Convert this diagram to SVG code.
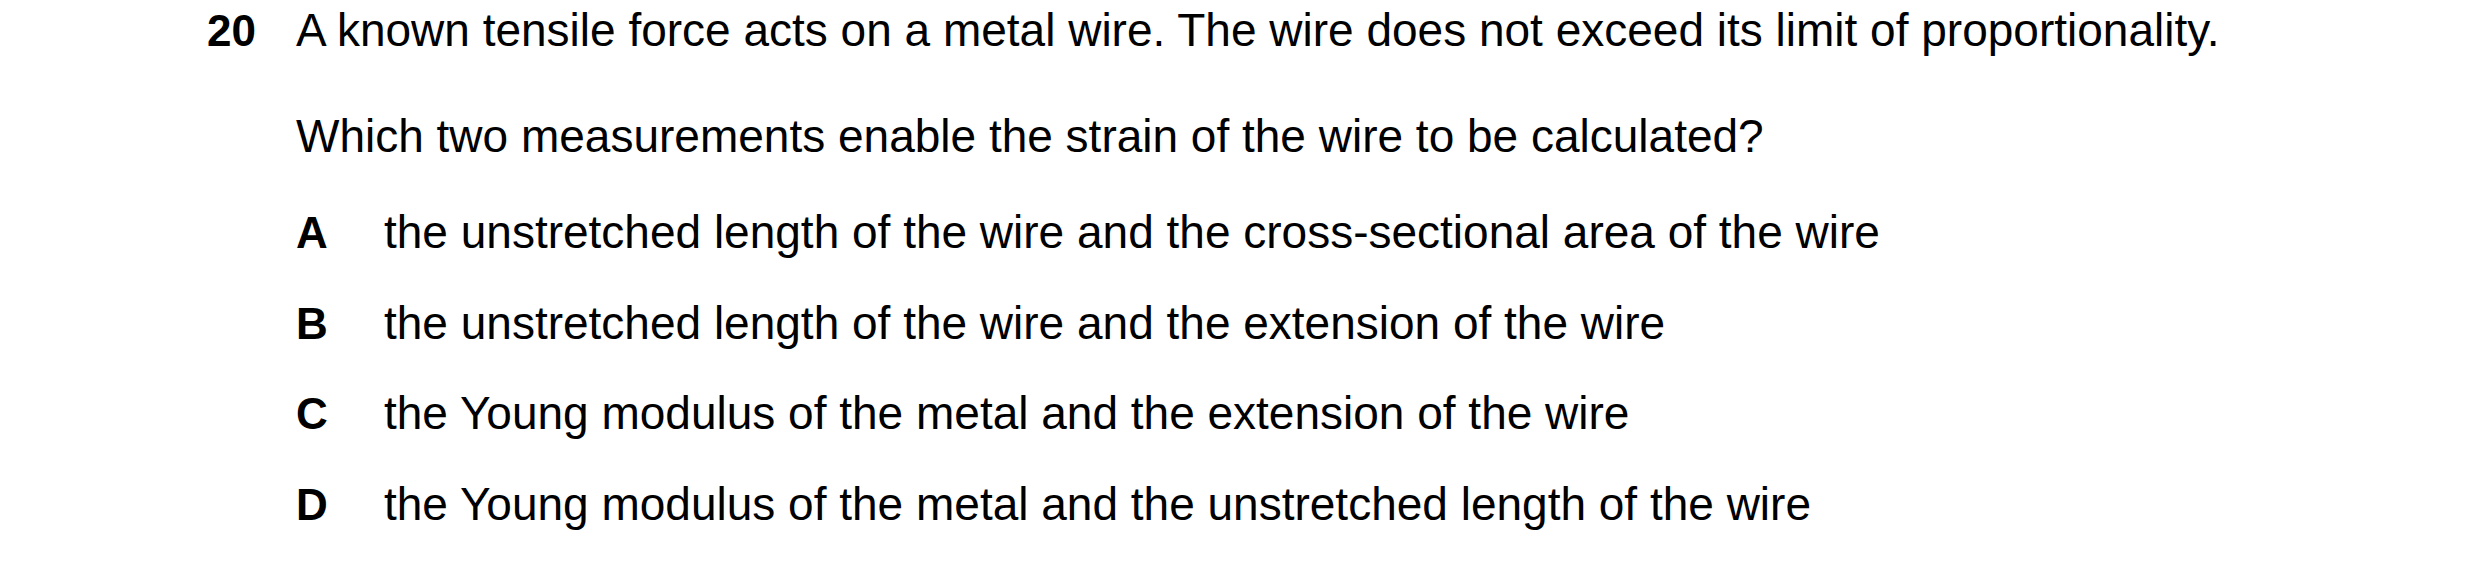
<svg xmlns="http://www.w3.org/2000/svg" width="2480" height="570" viewBox="0 0 2480 570">
<style>
text{font-family:"Liberation Sans",Arial,sans-serif;font-size:46px;fill:#000}
.b{font-weight:bold;font-size:44px}
</style>
<rect width="2480" height="570" fill="#fff"/>
<g id="question">
<text class="b" x="207" y="46">20</text>
<text x="296" y="46">A known tensile force acts on a metal wire. The wire does not exceed its limit of proportionality.</text>
<text x="296" y="152">Which two measurements enable the strain of the wire to be calculated?</text>
</g>
<g id="optA"><text class="b" x="296" y="248">A</text><text x="384" y="248">the unstretched length of the wire and the cross-sectional area of the wire</text></g>
<g id="optB"><text class="b" x="296" y="339">B</text><text x="384" y="339">the unstretched length of the wire and the extension of the wire</text></g>
<g id="optC"><text class="b" x="296" y="429">C</text><text x="384" y="429">the Young modulus of the metal and the extension of the wire</text></g>
<g id="optD"><text class="b" x="296" y="520">D</text><text x="384" y="520">the Young modulus of the metal and the unstretched length of the wire</text></g>
</svg>
